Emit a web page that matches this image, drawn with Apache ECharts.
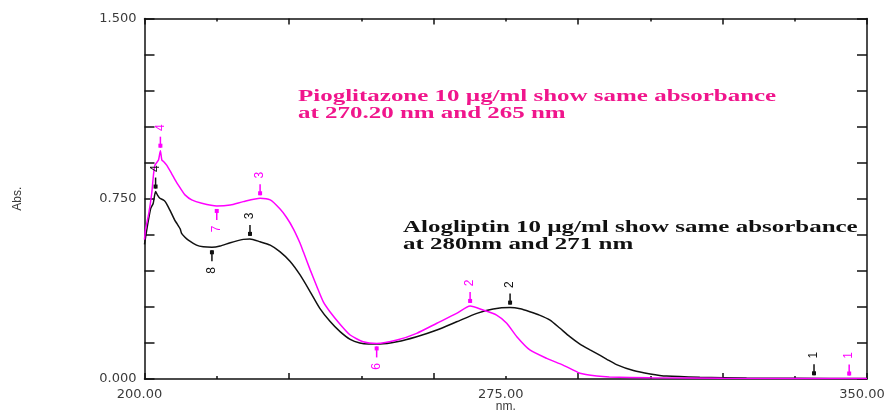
<!DOCTYPE html>
<html>
<head>
<meta charset="utf-8">
<title>UV spectra – Alogliptin and Pioglitazone</title>
<script src="https://cdn.jsdelivr.net/npm/echarts@6/dist/echarts.min.js"></script>
<style>
  html, body { margin: 0; padding: 0; background: #ffffff; }
  #chart { width: 895px; height: 413px; }
</style>
</head>
<body>
<div id="chart"></div>
<script>
// Wavelength (nm) and absorbance for Alogliptin 10 µg/ml
const alogliptinNm = [200.0, 200.3, 200.8, 201.3, 201.8, 202.3, 202.7, 203.2, 203.9, 204.3, 204.9, 205.6, 206.3, 206.7, 207.4, 207.7, 208.4, 209.1, 210.8, 212.2, 214.0, 215.7, 217.8, 220.5, 221.9, 224.0, 226.1, 228.1, 230.2, 232.3, 234.4, 236.4, 238.5, 240.6, 242.7, 244.7, 246.5, 248.9, 252.4, 256.5, 260.7, 264.8, 269.0, 272.4, 275.9, 278.0, 280.0, 282.0, 284.2, 286.2, 288.3, 290.4, 292.5, 294.6, 296.0, 298.0, 301.5, 305.0, 308.4, 315.3, 325.0, 335.0, 350.0];
const alogliptinAbs = [0.560, 0.600, 0.660, 0.710, 0.730, 0.780, 0.765, 0.752, 0.745, 0.738, 0.717, 0.689, 0.660, 0.648, 0.625, 0.606, 0.590, 0.578, 0.557, 0.550, 0.548, 0.553, 0.567, 0.581, 0.583, 0.571, 0.557, 0.530, 0.490, 0.433, 0.363, 0.294, 0.240, 0.197, 0.165, 0.150, 0.146, 0.146, 0.155, 0.176, 0.204, 0.238, 0.273, 0.291, 0.297, 0.292, 0.280, 0.266, 0.245, 0.212, 0.176, 0.145, 0.121, 0.098, 0.082, 0.060, 0.035, 0.021, 0.012, 0.007, 0.004, 0.003, 0.002];

// Wavelength (nm) and absorbance for Pioglitazone 10 µg/ml
const pioglitazoneNm = [200.0, 200.2, 200.9, 201.5, 201.9, 202.2, 202.9, 203.3, 203.6, 204.0, 204.6, 205.6, 206.6, 207.7, 208.4, 209.8, 211.9, 215.0, 217.8, 220.5, 224.0, 226.1, 228.1, 229.5, 230.9, 232.3, 233.0, 234.4, 235.8, 237.1, 238.5, 240.6, 242.7, 245.4, 248.2, 252.4, 256.5, 260.7, 264.8, 267.6, 270.3, 273.1, 275.2, 277.3, 280.0, 283.5, 286.9, 290.4, 293.9, 296.5, 305.0, 320.0, 350.0];
const pioglitazoneAbs = [0.580, 0.620, 0.690, 0.773, 0.856, 0.891, 0.911, 0.950, 0.911, 0.904, 0.890, 0.856, 0.820, 0.786, 0.766, 0.745, 0.731, 0.720, 0.724, 0.738, 0.752, 0.745, 0.708, 0.672, 0.625, 0.565, 0.528, 0.454, 0.384, 0.322, 0.280, 0.228, 0.183, 0.155, 0.148, 0.162, 0.190, 0.232, 0.273, 0.304, 0.287, 0.266, 0.232, 0.176, 0.121, 0.086, 0.058, 0.024, 0.012, 0.008, 0.005, 0.003, 0.002];

// Peak / valley picks: [nm, absorbance, direction (1 = peak, -1 = valley), pick number]
const alogliptinPicks = [
  [339.0, 0.003, 1, 1],
  [275.9, 0.297, 1, 2],
  [221.9, 0.583, 1, 3],
  [202.3, 0.780, 1, 4],
  [214.0, 0.548, -1, 8]
];
const pioglitazonePicks = [
  [346.3, 0.002, 1, 1],
  [267.6, 0.304, 1, 2],
  [224.0, 0.752, 1, 3],
  [203.3, 0.950, 1, 4],
  [248.2, 0.148, -1, 6],
  [215.0, 0.720, -1, 7]
];

// Axis ranges and labelled ticks
const xRange = [200, 350];
const xLabelStep = 75;
const xTickStep = 30;
const yRange = [0, 1.5];
const yTickStep = 0.15;
const yLabelStep = 0.75;

const axisTitleX = 'nm.';
const axisTitleY = 'Abs.';
const noteAlogliptin = 'Alogliptin 10 \u00b5g/ml show same absorbance\nat 280nm and 271 nm';
const notePioglitazone = 'Pioglitazone 10 \u00b5g/ml show same absorbance\nat 270.20 nm and 265 nm';

const BLACK = '#111111';
const MAGENTA = '#ff00ff';
const PINK_TEXT = '#f0158c';
const AXIS_COLOR = '#111111';
const LABEL_FONT = '"Liberation Sans", Arial, sans-serif';
const TICK_FONT = '"DejaVu Sans", "Liberation Sans", sans-serif';

function zip(xs, ys) { return xs.map((x, i) => [x, ys[i]]); }

// Draws a pick marker: short stem with a small block and a rotated pick number
function pickRenderer(color) {
  return function (params, api) {
    const p = api.coord([api.value(0), api.value(1)]);
    const dir = api.value(2) >= 0 ? -1 : 1; // screen direction away from the curve
    const n = api.value(3);
    return {
      type: 'group',
      children: [
        { type: 'line', shape: { x1: p[0], y1: p[1] + dir * 3, x2: p[0], y2: p[1] + dir * 14 },
          style: { stroke: color, lineWidth: 1.5 } },
        { type: 'rect', shape: { x: p[0] - 2, y: p[1] + dir * 5 - 2, width: 4, height: 4 },
          style: { fill: color } },
        { type: 'text', x: p[0], y: p[1] + dir * 23, rotation: Math.PI / 2,
          style: { text: String(n), fill: color, font: '12px ' + LABEL_FONT,
                   align: 'center', verticalAlign: 'middle' } }
      ]
    };
  };
}

const tickAxisCommon = {
  type: 'value',
  axisLine: { show: true, onZero: false, lineStyle: { color: AXIS_COLOR, width: 1.5 } },
  splitLine: { show: false },
  minorSplitLine: { show: false }
};

const chart = echarts.init(document.getElementById('chart'), null, { renderer: 'canvas' });

chart.setOption({
  backgroundColor: '#ffffff',
  animation: false,
  grid: { left: 144.5, right: 28, top: 18.5, bottom: 34, containLabel: false, outerBoundsMode: 'none' },
  xAxis: [
    Object.assign({}, tickAxisCommon, {
      position: 'bottom', min: xRange[0], max: xRange[1], interval: xTickStep,
      axisTick: { show: true, inside: true, length: 6, lineStyle: { color: AXIS_COLOR, width: 1.5 } },
      minorTick: { show: true, splitNumber: 2, length: 3, lineStyle: { color: AXIS_COLOR, width: 1.5 } },
      axisLabel: { show: false }
    }),
    {
      type: 'value', position: 'bottom', min: xRange[0], max: xRange[1], interval: xLabelStep,
      axisLine: { show: false }, axisTick: { show: false }, splitLine: { show: false },
      axisLabel: { show: true, margin: 9, color: '#3a3a3a', fontFamily: TICK_FONT, fontSize: 13,
                   padding: [0, 10, 0, 0], formatter: v => v.toFixed(2) },
      name: axisTitleX, nameLocation: 'middle', nameGap: 28, nameMoveOverlap: false,
      nameTextStyle: { color: '#3a3a3a', fontFamily: LABEL_FONT, fontSize: 12, verticalAlign: 'middle' }
    },
    Object.assign({}, tickAxisCommon, {
      position: 'top', min: xRange[0], max: xRange[1], interval: xTickStep,
      axisTick: { show: true, inside: true, length: 6, lineStyle: { color: AXIS_COLOR, width: 1.5 } },
      minorTick: { show: true, splitNumber: 2, length: 3, lineStyle: { color: AXIS_COLOR, width: 1.5 } },
      axisLabel: { show: false }
    })
  ],
  yAxis: [
    Object.assign({}, tickAxisCommon, {
      position: 'left', min: yRange[0], max: yRange[1], interval: yTickStep,
      axisTick: { show: true, inside: true, length: 10, lineStyle: { color: AXIS_COLOR, width: 1.5 } },
      axisLabel: {
        show: true, margin: 8, color: '#3a3a3a', fontFamily: TICK_FONT, fontSize: 13,
        formatter: v => {
          const k = v / yLabelStep;
          return Math.abs(k - Math.round(k)) < 1e-6 ? v.toFixed(3) : '';
        }
      },
      name: axisTitleY, nameLocation: 'middle', nameGap: 121, nameRotate: 90, nameMoveOverlap: false,
      nameTextStyle: { color: '#3a3a3a', fontFamily: LABEL_FONT, fontSize: 12 }
    }),
    Object.assign({}, tickAxisCommon, {
      position: 'right', min: yRange[0], max: yRange[1], interval: yTickStep,
      axisTick: { show: true, inside: true, length: 10, lineStyle: { color: AXIS_COLOR, width: 1.5 } },
      axisLabel: { show: false }
    })
  ],
  series: [
    {
      name: 'Alogliptin', type: 'line', xAxisIndex: 0, yAxisIndex: 0,
      data: zip(alogliptinNm, alogliptinAbs), showSymbol: false, smooth: 0.2,
      lineStyle: { color: BLACK, width: 1.5 }, z: 3
    },
    {
      name: 'Pioglitazone', type: 'line', xAxisIndex: 0, yAxisIndex: 0,
      data: zip(pioglitazoneNm, pioglitazoneAbs), showSymbol: false, smooth: 0.2,
      lineStyle: { color: MAGENTA, width: 1.5 }, z: 4
    },
    {
      name: 'Alogliptin picks', type: 'custom', xAxisIndex: 0, yAxisIndex: 0,
      data: alogliptinPicks, renderItem: pickRenderer(BLACK), z: 5, silent: true
    },
    {
      name: 'Pioglitazone picks', type: 'custom', xAxisIndex: 0, yAxisIndex: 0,
      data: pioglitazonePicks, renderItem: pickRenderer(MAGENTA), z: 6, silent: true
    }
  ],
  graphic: [
    {
      type: 'text', x: 298, y: 88, scaleX: 1.56,
      style: { text: notePioglitazone, fill: PINK_TEXT, font: 'bold 16px "Liberation Serif", "Times New Roman", serif',
               lineHeight: 17, verticalAlign: 'top' }
    },
    {
      type: 'text', x: 403, y: 219, scaleX: 1.56,
      style: { text: noteAlogliptin, fill: '#111111', font: 'bold 16px "Liberation Serif", "Times New Roman", serif',
               lineHeight: 17, verticalAlign: 'top' }
    }
  ]
});
</script>
</body>
</html>
